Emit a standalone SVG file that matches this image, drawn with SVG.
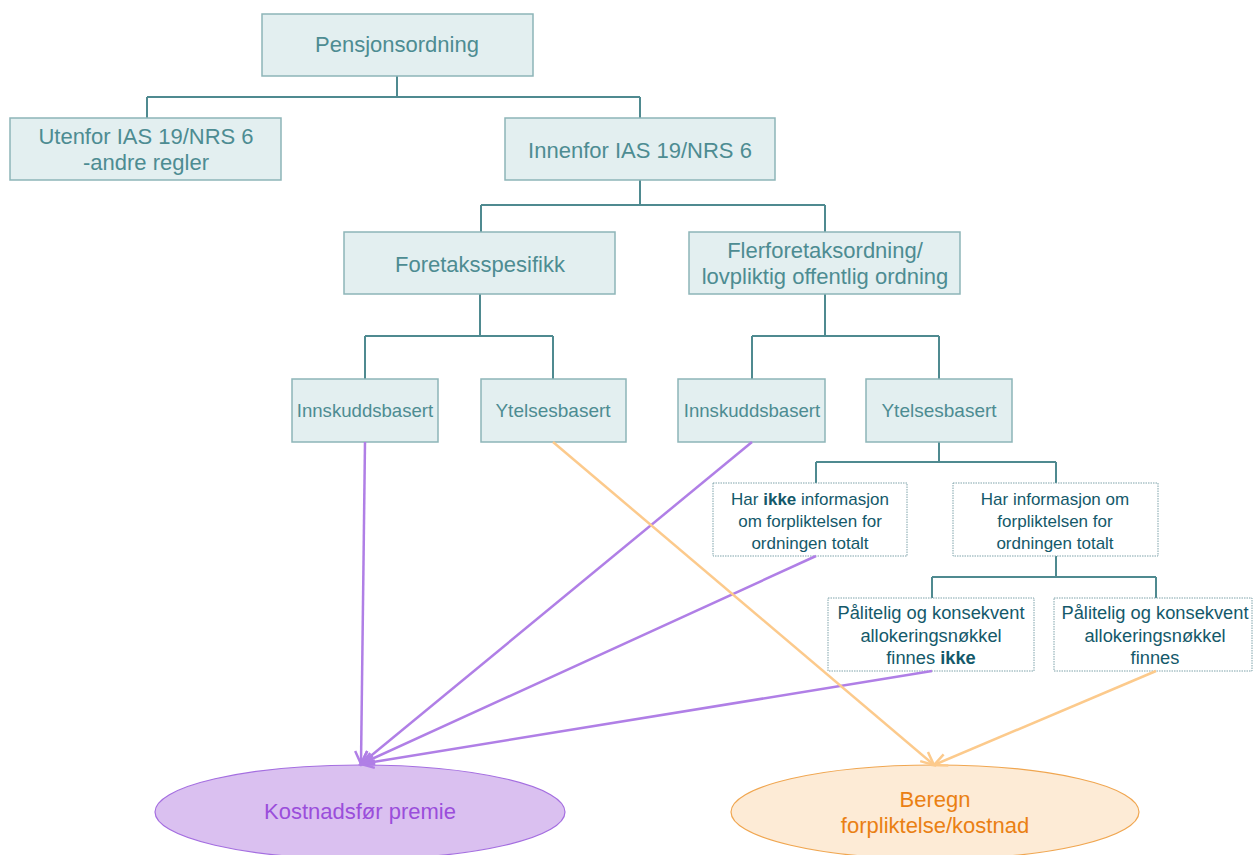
<svg xmlns="http://www.w3.org/2000/svg" width="1253" height="855" viewBox="0 0 1253 855">
<defs>
<style>
.box{fill:#e3eff0;stroke:#8db5b8;stroke-width:1.5}
.dbox{fill:#ffffff;stroke:#7fa3aa;stroke-width:1;stroke-dasharray:1.5 1}
.t{font-family:"Liberation Sans",Arial,sans-serif;fill:#4d8c92;text-anchor:middle}
.td{font-family:"Liberation Sans",Arial,sans-serif;fill:#14596a;text-anchor:middle;font-size:17px}
.tp{font-family:"Liberation Sans",Arial,sans-serif;fill:#14596a;text-anchor:middle;font-size:18.3px}
.tree{fill:none;stroke:#4f8a90;stroke-width:2}
.pa{fill:none;stroke:#b07fe6;stroke-width:2.5}
.oa{fill:none;stroke:#fcca8c;stroke-width:2.5}
</style>
<marker id="mp" markerUnits="userSpaceOnUse" markerWidth="30" markerHeight="30" refX="0" refY="0" viewBox="-15 -15 30 30" orient="auto">
<path d="M-13,-6 L0,0 L-13,6" fill="none" stroke="#b07fe6" stroke-width="2.5"/>
</marker>
<marker id="mo" markerUnits="userSpaceOnUse" markerWidth="30" markerHeight="30" refX="0" refY="0" viewBox="-15 -15 30 30" orient="auto">
<path d="M-13,-6 L0,0 L-13,6" fill="none" stroke="#fcca8c" stroke-width="2.5"/>
</marker>
</defs>
<rect width="1253" height="855" fill="#ffffff"/>

<g id="tree-connectors">
<path class="tree" d="M397,76 V97 M147,97 H640 M147,97 V118 M640,97 V118"/>
<path class="tree" d="M640,180 V205 M481,205 H825 M481,205 V232 M825,205 V232"/>
<path class="tree" d="M480,294 V336 M365,336 H553 M365,336 V379 M553,336 V379"/>
<path class="tree" d="M825,294 V336 M752,336 H939 M752,336 V379 M939,336 V379"/>
<path class="tree" d="M939,442 V462 M816,462 H1056 M816,462 V483 M1056,462 V483"/>
<path class="tree" d="M1056,556 V577 M932,577 H1156 M932,577 V598 M1156,577 V598"/>
</g>

<g id="n-pensjon">
<rect class="box" x="262" y="14" width="271" height="62"/>
<text class="t" x="397" y="52" font-size="22">Pensjonsordning</text>
</g>
<g id="n-utenfor">
<rect class="box" x="10" y="118" width="271" height="62"/>
<text class="t" x="146" y="144" font-size="22">Utenfor IAS 19/NRS 6</text>
<text class="t" x="146" y="170" font-size="22">-andre regler</text>
</g>
<g id="n-innenfor">
<rect class="box" x="505" y="118" width="270" height="62"/>
<text class="t" x="640" y="158" font-size="22">Innenfor IAS 19/NRS 6</text>
</g>
<g id="n-foretak">
<rect class="box" x="344" y="232" width="271" height="62"/>
<text class="t" x="480" y="272" font-size="22">Foretaksspesifikk</text>
</g>
<g id="n-flerforetak">
<rect class="box" x="689" y="232" width="271" height="62"/>
<text class="t" x="825" y="258" font-size="22">Flerforetaksordning/</text>
<text class="t" x="825" y="284" font-size="22">lovpliktig offentlig ordning</text>
</g>
<g id="n-innskudd1">
<rect class="box" x="292" y="379" width="146" height="63"/>
<text class="t" x="365" y="417" font-size="18.6">Innskuddsbasert</text>
</g>
<g id="n-ytelse1">
<rect class="box" x="481" y="379" width="145" height="63"/>
<text class="t" x="553" y="417" font-size="19">Ytelsesbasert</text>
</g>
<g id="n-innskudd2">
<rect class="box" x="678" y="379" width="147" height="63"/>
<text class="t" x="752" y="417" font-size="18.6">Innskuddsbasert</text>
</g>
<g id="n-ytelse2">
<rect class="box" x="866" y="379" width="146" height="63"/>
<text class="t" x="939" y="417" font-size="19">Ytelsesbasert</text>
</g>
<g id="n-harikke">
<rect class="dbox" x="713" y="483" width="194" height="73"/>
<text class="td" x="810" y="505">Har <tspan font-weight="bold">ikke</tspan> informasjon</text>
<text class="td" x="810" y="527">om forpliktelsen for</text>
<text class="td" x="810" y="549">ordningen totalt</text>
</g>
<g id="n-har">
<rect class="dbox" x="953" y="483" width="205" height="73"/>
<text class="td" x="1055" y="505">Har informasjon om</text>
<text class="td" x="1055" y="527">forpliktelsen for</text>
<text class="td" x="1055" y="549">ordningen totalt</text>
</g>
<g id="n-palitelig-ikke">
<rect class="dbox" x="828" y="598" width="206" height="73"/>
<text class="tp" x="931" y="619">Pålitelig og konsekvent</text>
<text class="tp" x="931" y="642">allokeringsnøkkel</text>
<text class="tp" x="931" y="664">finnes <tspan font-weight="bold">ikke</tspan></text>
</g>
<g id="n-palitelig">
<rect class="dbox" x="1054" y="598" width="198" height="73"/>
<text class="tp" x="1155" y="619">Pålitelig og konsekvent</text>
<text class="tp" x="1155" y="642">allokeringsnøkkel</text>
<text class="tp" x="1155" y="664">finnes</text>
</g>

<g id="n-kostnad">
<ellipse cx="360" cy="812" rx="205" ry="47" fill="#dac0f0" stroke="#a46ee0" stroke-width="1.2"/>
<text x="360" y="819" font-family="Liberation Sans, Arial, sans-serif" font-size="22" fill="#9a4edb" text-anchor="middle">Kostnadsfør premie</text>
</g>
<g id="n-beregn">
<ellipse cx="935" cy="812" rx="204" ry="47" fill="#fdebd6" stroke="#f0a650" stroke-width="1.2"/>
<text x="935" y="807" font-family="Liberation Sans, Arial, sans-serif" font-size="22" fill="#ea8013" text-anchor="middle">Beregn</text>
<text x="935" y="833" font-family="Liberation Sans, Arial, sans-serif" font-size="22" fill="#ea8013" text-anchor="middle">forpliktelse/kostnad</text>
</g>

<g id="arrows">
<path class="pa" d="M365,442 L361,764" stroke-width="2" marker-end="url(#mp)"/>
<path class="pa" d="M752,442 L361,764" marker-end="url(#mp)"/>
<path class="pa" d="M816,556 L361,764" marker-end="url(#mp)"/>
<path class="pa" d="M932,671 L361,764" stroke-width="3" marker-end="url(#mp)"/>
<path class="oa" d="M553,442 L934,765" marker-end="url(#mo)"/>
<path class="oa" d="M1156,671 L934,765" marker-end="url(#mo)"/>
</g>
</svg>
